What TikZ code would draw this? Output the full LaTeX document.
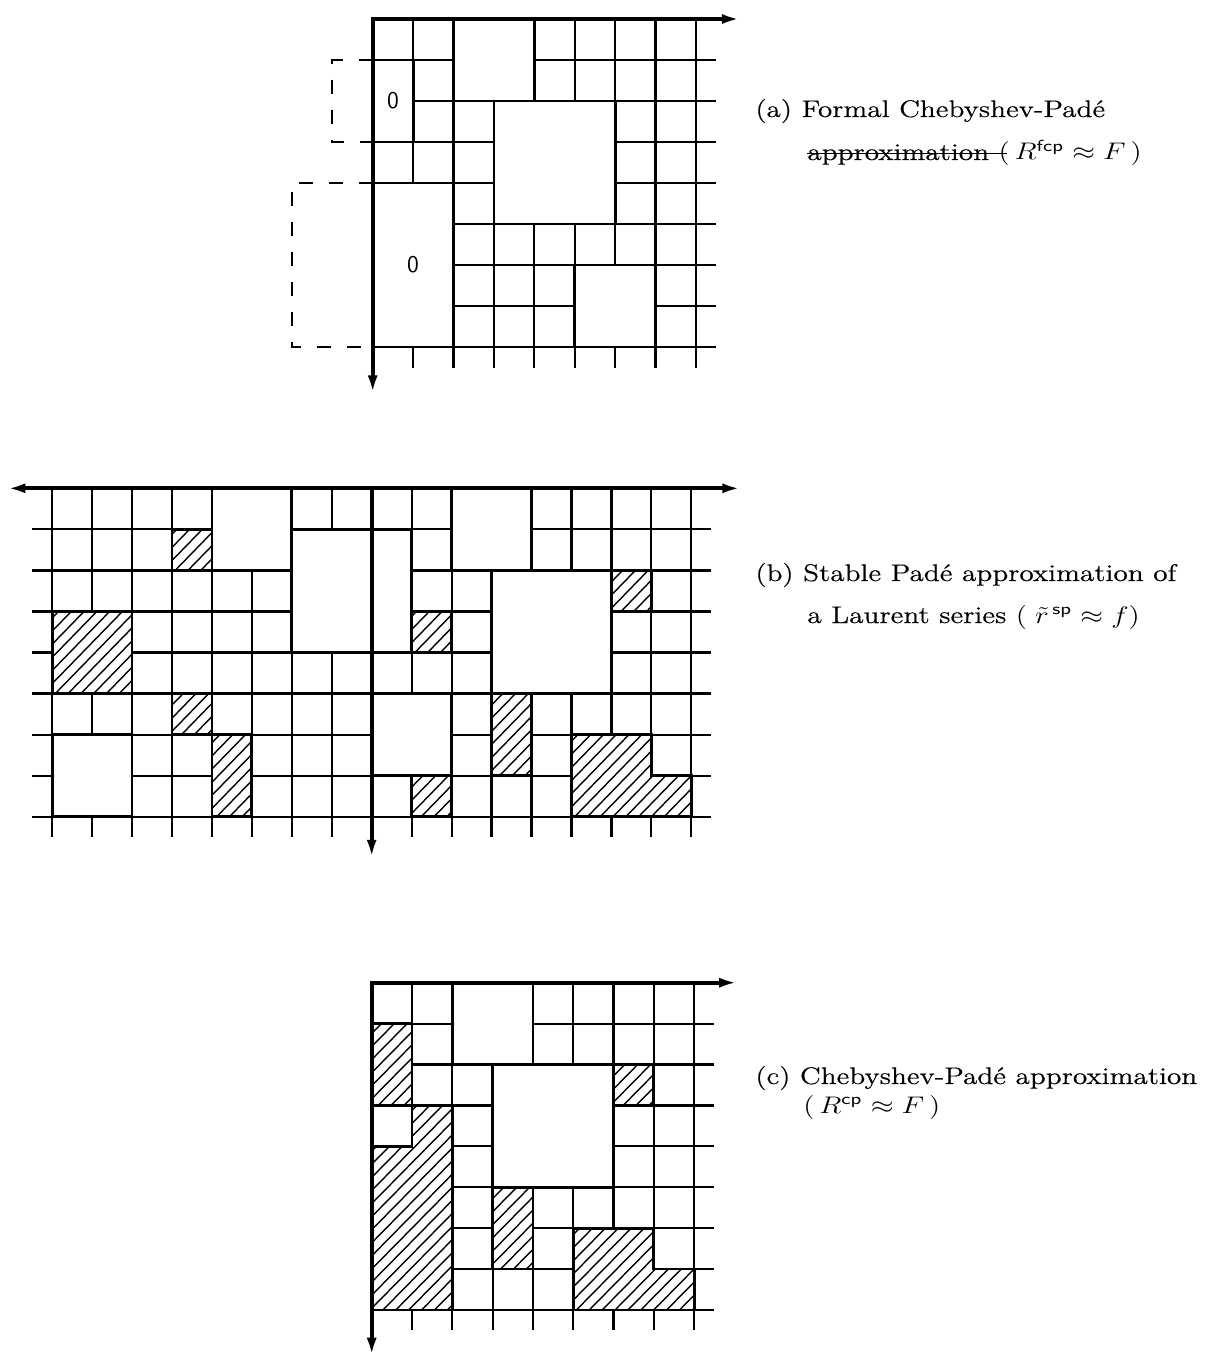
\documentclass[tikz,border=0pt]{standalone}
\usepackage{fontspec}
\usepackage{graphicx}
\usetikzlibrary{arrows.meta}

\newfontfamily\capfont[FakeBold=0.4]{Latin Modern Roman}

\tikzset{
  gridline/.style={line width=1.1pt},
  blockedge/.style={line width=1.4pt},
  hatchline/.style={line width=0.7pt},
  axisline/.style={line width=1.9pt, line join=miter},
  bothtips/.style={{Latex[length=9pt,width=5pt]}-{Latex[length=9pt,width=5pt]}},
  bracketline/.style={line width=1.0pt, dash pattern=on 7pt off 8pt},
  caption/.style={anchor=west, inner sep=0pt, font=\capfont\fontsize{12pt}{14pt}\selectfont},
  zerolabel/.style={inner sep=0pt, font=\sffamily\fontsize{12pt}{14pt}\selectfont},
}

% grid of a table: vertical lines from column #1 to 8, rows drawn from #2 to 8.5
\newcommand{\tablegrid}[2]{%
  \foreach \r in {1,...,8} {\draw[gridline] (#2,\r) -- (8.5,\r);}
  \foreach \c in {#1,...,8} {\ifnum\c=0 \else\draw[gridline] (\c,0) -- (\c,8.5);\fi}
}

% white region with diagonal hatching
\newcommand{\hatchregion}[1]{%
  \fill[white] #1;
  \begin{scope}
    \clip #1;
    \foreach \k in {-18,-17.68,...,8} {\draw[hatchline] (\k,9) -- ++(10,-10);}
  \end{scope}
}

\newcommand{\caplabel}[1]{\scalebox{1.22}[1]{#1}}

\begin{document}
\begin{tikzpicture}[x=0.5pt,y=-0.5pt]
\fill[white] (0,0) rectangle (1222,1357);
\useasboundingbox (0,0) rectangle (1222,1357);

% ---------- (a) formal Chebyshev-Pade table ----------
\begin{scope}[xshift=186.35pt,yshift=-9.5pt,x=20.2pt,y=-20.5pt]
  \tablegrid{1}{0}
  \foreach \a/\b/\c/\d in {0/1/1/3, 2/0/4/2, 3/2/6/5, 0/4/2/8, 5/6/7/8}
    {\fill[white] (\a,\b) rectangle (\c,\d);}
  \foreach \a/\b/\c/\d in {0/1/1/3, 2/0/4/2, 3/2/6/5, 0/4/2/8, 5/6/7/8}
    {\draw[blockedge] (\a,\b) rectangle (\c,\d);}
  \node[zerolabel] (zeroA) at (0.5,2) {0};
  \node[zerolabel] (zeroB) at (1,6) {0};
  \draw[bracketline] (0,1) -- (-1,1) -- (-1,3) -- (0,3);
  \draw[bracketline] (0,4) -- (-2,4) -- (-2,8) -- (0,8);
  \coordinate (a-o) at (0,0);
  \coordinate (a-x) at (9.09,0);
  \coordinate (a-y) at (0,9.13);
  \draw[axisline, bothtips] (a-x) -- (a-o) -- (a-y);
\end{scope}

% ---------- (b) stable Pade table of a Laurent series ----------
\begin{scope}[xshift=185.85pt,yshift=-244.15pt,x=19.975pt,y=-20.525pt]
  \tablegrid{-8}{-8.5}
  \foreach \a/\b/\c/\d in {-4/0/-2/2, -2/1/1/4, -8/6/-6/8, 2/0/4/2, 3/2/6/5, 0/5/2/7}
    {\fill[white] (\a,\b) rectangle (\c,\d);}
  \foreach \a/\b/\c/\d in {-5/1/-4/2, -8/3/-6/5, -5/5/-4/6, -4/6/-3/8, 6/2/7/3, 1/3/2/4, 3/5/4/7, 1/7/2/8}
    {\hatchregion{(\a,\b) rectangle (\c,\d)}}
  \hatchregion{(5,6) -- (7,6) -- (7,7) -- (8,7) -- (8,8) -- (5,8) -- cycle}
  \foreach \a/\b/\c/\d in {-4/0/-2/2, -2/1/1/4, -8/6/-6/8, 2/0/4/2, 3/2/6/5, 0/5/2/7,
      -5/1/-4/2, -8/3/-6/5, -5/5/-4/6, -4/6/-3/8, 6/2/7/3, 1/3/2/4, 3/5/4/7, 1/7/2/8}
    {\draw[blockedge] (\a,\b) rectangle (\c,\d);}
  \draw[blockedge] (5,6) -- (7,6) -- (7,7) -- (8,7) -- (8,8) -- (5,8) -- cycle;
  \coordinate (b-l) at (-9.12,0);
  \coordinate (b-r) at (9.23,0);
  \coordinate (b-o) at (0,0);
  \coordinate (b-y) at (0,9.0);
  \draw[axisline, bothtips] (b-l) -- (b-r);
  \draw[axisline, -{Latex[length=9pt,width=5pt]}] (b-o) -- (b-y);
\end{scope}

% ---------- (c) Chebyshev-Pade table ----------
\begin{scope}[xshift=185.85pt,yshift=-491.35pt,x=20.15pt,y=-20.45pt]
  \tablegrid{1}{0}
  \foreach \a/\b/\c/\d in {2/0/4/2, 3/2/6/5}
    {\fill[white] (\a,\b) rectangle (\c,\d);}
  \foreach \a/\b/\c/\d in {0/1/1/3, 6/2/7/3, 3/5/4/7}
    {\hatchregion{(\a,\b) rectangle (\c,\d)}}
  \hatchregion{(1,3) -- (2,3) -- (2,8) -- (0,8) -- (0,4) -- (1,4) -- cycle}
  \hatchregion{(5,6) -- (7,6) -- (7,7) -- (8,7) -- (8,8) -- (5,8) -- cycle}
  \foreach \a/\b/\c/\d in {2/0/4/2, 3/2/6/5, 0/1/1/3, 6/2/7/3, 3/5/4/7}
    {\draw[blockedge] (\a,\b) rectangle (\c,\d);}
  \draw[blockedge] (1,3) -- (2,3) -- (2,8) -- (0,8) -- (0,4) -- (1,4) -- cycle;
  \draw[blockedge] (5,6) -- (7,6) -- (7,7) -- (8,7) -- (8,8) -- (5,8) -- cycle;
  \coordinate (c-o) at (0,0);
  \coordinate (c-x) at (9.07,0);
  \coordinate (c-y) at (0,9.12);
  \draw[axisline, bothtips] (c-x) -- (c-o) -- (c-y);
\end{scope}

% ---------- captions ----------
\node[caption] (capA1) at (755,111) {\caplabel{(a) Formal Chebyshev-Padé}};
\node[caption] (capA2) at (807,153) {\caplabel{approximation $(\,R^{\mathsf{fcp}}\approx F\,)$}};
\draw[line width=0.4pt] (capA2.west) -- ++(200,0);
\node[caption] (capB1) at (755,575) {\caplabel{(b) Stable Padé approximation of}};
\node[caption] (capB2) at (807,617) {\caplabel{a Laurent series $(\;{\tilde r}^{\,\mathsf{sp}}\approx f)$}};
\node[caption] (capC1) at (755,1078) {\caplabel{(c) Chebyshev-Padé approximation}};
\node[caption] (capC2) at (803,1107) {\caplabel{$(\,R^{\mathsf{cp}}\approx F\,)$}};
\end{tikzpicture}
\end{document}
